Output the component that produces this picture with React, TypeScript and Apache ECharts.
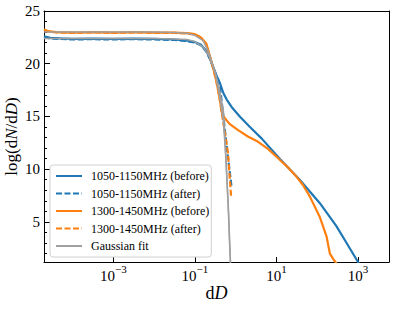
import React, { useEffect, useRef } from "react";
import * as echarts from "echarts";

// x values are log10(dD); y values are log(dN/dD)
const blueBeforeX = [-4.70, -4.55, -4.3, -4.0, -3.5, -3.0, -2.5, -2.0, -1.5, -1.2, -1.0, -0.85, -0.72, -0.63, -0.55, -0.47, -0.39, -0.30, -0.22, -0.10, 0.10, 0.35, 0.64, 1.08, 1.57, 2.06, 2.47, 2.72, 3.00, 3.10];
const blueBeforeY = [22.6, 22.45, 22.4, 22.35, 22.38, 22.35, 22.38, 22.35, 22.3, 22.2, 22.05, 21.8, 21.2, 20.5, 19.7, 18.9, 18.2, 17.2, 16.6, 15.9, 15.0, 14.0, 12.9, 11.0, 9.0, 6.8, 4.6, 3.0, 1.2, 0.5];

const blueAfterX = [-4.70, -4.55, -4.3, -4.0, -3.5, -3.0, -2.5, -2.0, -1.5, -1.2, -1.0, -0.85, -0.72, -0.63, -0.55, -0.47, -0.39, -0.31, -0.20, -0.10];
const blueAfterY = [22.55, 22.4, 22.35, 22.3, 22.33, 22.3, 22.33, 22.3, 22.25, 22.15, 22.0, 21.75, 21.15, 20.45, 19.6, 18.8, 18.0, 15.3, 11.5, 8.3];

const orangeBeforeX = [-4.70, -4.6, -4.4, -4.0, -3.5, -3.0, -2.5, -2.0, -1.5, -1.2, -1.0, -0.85, -0.72, -0.63, -0.55, -0.47, -0.40, -0.34, -0.29, -0.26, -0.15, 0.06, 0.30, 0.55, 0.80, 1.08, 1.30, 1.49, 1.65, 1.82, 2.06, 2.23, 2.31, 2.39, 2.50];
const orangeBeforeY = [23.25, 23.1, 23.0, 22.95, 23.0, 22.95, 23.0, 22.95, 22.95, 22.9, 22.8, 22.5, 21.9, 20.7, 19.6, 18.3, 16.9, 15.4, 15.0, 14.8, 14.3, 13.7, 13.1, 12.6, 11.9, 10.9, 10.1, 9.3, 8.5, 7.4, 5.5, 3.6, 2.0, 1.5, 0.9];

const orangeAfterX = [-4.70, -4.6, -4.4, -4.0, -3.5, -3.0, -2.5, -2.0, -1.5, -1.2, -1.0, -0.85, -0.72, -0.63, -0.55, -0.47, -0.40, -0.34, -0.27, -0.19, -0.11];
const orangeAfterY = [23.2, 23.05, 22.97, 22.92, 22.97, 22.92, 22.97, 22.92, 22.92, 22.87, 22.77, 22.45, 21.85, 20.65, 19.55, 18.25, 16.85, 15.3, 13.6, 11.6, 7.3];

const gaussBlueX = [-4.70, -3.0, -2.0, -1.5, -1.2, -1.0, -0.8, -0.65, -0.5, -0.4, -0.3, -0.24, -0.18, -0.14, -0.12];
const gaussBlueY = [22.4, 22.4, 22.4, 22.35, 22.3, 22.1, 21.6, 20.7, 19.2, 17.6, 15.5, 11.2, 6.1, 2.0, 0.5];

const gaussOrangeX = [-4.70, -3.0, -2.0, -1.5, -1.2, -1.0, -0.8, -0.65, -0.5, -0.4, -0.3, -0.24, -0.18, -0.14, -0.12];
const gaussOrangeY = [23.0, 23.0, 23.0, 22.95, 22.9, 22.7, 22.2, 21.0, 19.0, 17.0, 14.5, 11.0, 6.5, 2.5, 0.5];

const xTickExponents = [-3, -1, 1, 3];
const yTickValues = [5, 10, 15, 20, 25];
const yMinorTickValues = [2, 3, 4, 6, 7, 8, 9, 11, 12, 13, 14, 16, 17, 18, 19, 21, 22, 23, 24];

const legendNames = [
  "1050-1150MHz (before)",
  "1050-1150MHz (after)",
  "1300-1450MHz (before)",
  "1300-1450MHz (after)",
  "Gaussian fit",
];

const FONT = "Liberation Serif";
const BLUE = "#1f77b4";
const ORANGE = "#ff7f0e";
const GRAY = "#a0a0a0";

const zip = (xs: number[], ys: number[]) => xs.map((x, i) => [x, ys[i]]);

export default function App() {
  const ref = useRef<HTMLDivElement>(null);
  useEffect(() => {
    if (!ref.current) return;
    const chart = echarts.init(ref.current, null, { renderer: "svg" });
    const lineSeries = (name: string, xs: number[], ys: number[], color: string, dashed: boolean, width: number, z: number) => ({
      type: "line",
      name,
      data: zip(xs, ys),
      symbol: "none",
      smooth: false,
      clip: true,
      z,
      lineStyle: { color, width, type: dashed ? [6, 2.5] : "solid" },
      itemStyle: { color },
    });
    const frameAxis = { show: true, onZero: false, lineStyle: { color: "#000", width: 1 } };
    chart.setOption({
      animation: false,
      grid: { left: 44, right: 6, top: 11, bottom: 47, show: false, containLabel: false, outerBoundsMode: "none" },
      legend: {
        data: legendNames,
        orient: "vertical",
        left: 50,
        top: 165,
        itemWidth: 26,
        itemHeight: 14,
        itemGap: 3.5,
        padding: [4, 2, 4, 5],
        backgroundColor: "rgba(255,255,255,0.85)",
        borderColor: "#d0d0d0",
        borderWidth: 1,
        borderRadius: 3,
        itemStyle: { opacity: 0, color: "transparent", borderColor: "transparent" },
        textStyle: { fontFamily: FONT, fontSize: 12, color: "#000", lineHeight: 14, padding: [0, 0, 0, 4] },
      },
      xAxis: [
        {
          type: "value",
          min: -4.70,
          max: 3.76,
          name: "d{i|D}",
          nameLocation: "middle",
          nameGap: 21,
          nameMoveOverlap: false,
          nameTextStyle: {
            fontFamily: FONT,
            fontSize: 18,
            lineHeight: 20,
            color: "#000",
            rich: { i: { fontFamily: FONT, fontSize: 18, lineHeight: 20, fontStyle: "italic", color: "#000" } },
          },
          axisLine: frameAxis,
          axisTick: { show: true, inside: true, length: 5, customValues: xTickExponents, lineStyle: { color: "#000" } },
          axisLabel: {
            customValues: xTickExponents,
            margin: 1,
            formatter: (v: number) => `{b|10}{s|${v < 0 ? "\u2212" : ""}${Math.abs(v)}}`,
            rich: {
              b: { fontFamily: FONT, fontSize: 15, color: "#000", verticalAlign: "bottom", lineHeight: 20 },
              s: { fontFamily: FONT, fontSize: 11, color: "#000", verticalAlign: "top", lineHeight: 12 },
            },
          },
          splitLine: { show: false },
        },
        {
          type: "value",
          position: "top",
          min: -4.70,
          max: 3.76,
          axisLine: frameAxis,
          axisTick: { show: false },
          axisLabel: { show: false },
          splitLine: { show: false },
        },
      ],
      yAxis: [
        {
          type: "value",
          min: 1.2,
          max: 25,
          name: "log(d{i|N}/d{i|D})",
          nameLocation: "middle",
          nameRotate: 90,
          nameGap: 24,
          nameMoveOverlap: false,
          nameTextStyle: {
            fontFamily: FONT,
            fontSize: 17,
            lineHeight: 18,
            color: "#000",
            rich: { i: { fontFamily: FONT, fontSize: 17, lineHeight: 18, fontStyle: "italic", color: "#000" } },
          },
          axisLine: frameAxis,
          axisTick: { show: true, inside: true, length: 6, customValues: yTickValues, lineStyle: { color: "#000" } },
          axisLabel: { customValues: yTickValues, fontFamily: FONT, fontSize: 15, color: "#000", margin: 4 },
          splitLine: { show: false },
        },
        {
          type: "value",
          min: 1.2,
          max: 25,
          position: "left",
          axisLine: { show: false, onZero: false },
          axisTick: { show: true, inside: true, length: 3, customValues: yMinorTickValues, lineStyle: { color: "#000" } },
          axisLabel: { show: false },
          splitLine: { show: false },
        },
        {
          type: "value",
          min: 1.2,
          max: 25,
          position: "right",
          axisLine: frameAxis,
          axisTick: { show: false },
          axisLabel: { show: false },
          splitLine: { show: false },
        },
      ],
      series: [
        lineSeries(legendNames[0], blueBeforeX, blueBeforeY, BLUE, false, 2.2, 2),
        lineSeries(legendNames[1], blueAfterX, blueAfterY, BLUE, true, 2.2, 2),
        lineSeries(legendNames[2], orangeBeforeX, orangeBeforeY, ORANGE, false, 2.2, 2),
        lineSeries(legendNames[3], orangeAfterX, orangeAfterY, ORANGE, true, 2.2, 2),
        lineSeries(legendNames[4], gaussBlueX, gaussBlueY, GRAY, false, 1.5, 3),
        lineSeries(legendNames[4], gaussOrangeX, gaussOrangeY, GRAY, false, 1.5, 3),
      ],
    });
    return () => chart.dispose();
  }, []);
  return <div ref={ref} style={{ position: "absolute", left: 0, top: 0, width: 395, height: 309 }} />;
}
